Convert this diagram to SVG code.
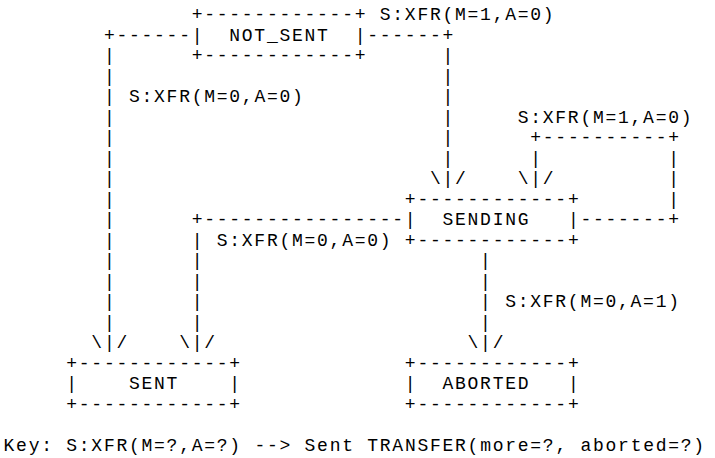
<svg xmlns="http://www.w3.org/2000/svg" width="715" height="458" viewBox="0 0 715 458" xml:space="preserve">
<style>
text { font-family: "Liberation Mono", "DejaVu Sans Mono", monospace; font-size: 18px; letter-spacing: 1.74px; fill: #000; white-space: pre; }
</style>
<rect width="715" height="458" fill="#fff"/>
<g id="node-not-sent">
<text x="191.67" y="20">+------------+<tspan x="191.67" y="40.5">|  NOT_SENT  |</tspan><tspan x="191.67" y="61">+------------+</tspan></text>
</g>
<g id="node-sending">
<text x="404.85" y="204.5">+------------+<tspan x="404.85" y="225">|  SENDING   |</tspan><tspan x="404.85" y="245.5">+------------+</tspan></text>
</g>
<g id="node-sent">
<text x="66.27" y="368.5">+------------+<tspan x="66.27" y="389">|    SENT    |</tspan><tspan x="66.27" y="409.5">+------------+</tspan></text>
</g>
<g id="node-aborted">
<text x="404.85" y="368.5">+------------+<tspan x="404.85" y="389">|  ABORTED   |</tspan><tspan x="404.85" y="409.5">+------------+</tspan></text>
</g>
<g id="connectors">
<text id="c-notsent-sending-label" x="379.77" y="20">S:XFR(M=1,A=0)</text>
<text id="c-notsent-sending" x="367.23" y="40.5">------+<tspan x="442.47" y="61">|</tspan><tspan x="442.47" y="81.5">|</tspan><tspan x="442.47" y="102">|</tspan><tspan x="442.47" y="122.5">|</tspan><tspan x="442.47" y="143">|</tspan><tspan x="442.47" y="163.5">|</tspan><tspan x="429.93" y="184">\|/</tspan></text>
<text id="c-notsent-sent" x="103.89" y="40.5">+------<tspan x="103.89" y="61">|</tspan><tspan x="103.89" y="81.5">|</tspan><tspan x="103.89" y="102">| S:XFR(M=0,A=0)</tspan><tspan x="103.89" y="122.5">|</tspan><tspan x="103.89" y="143">|</tspan><tspan x="103.89" y="163.5">|</tspan><tspan x="103.89" y="184">|</tspan><tspan x="103.89" y="204.5">|</tspan><tspan x="103.89" y="225">|</tspan><tspan x="103.89" y="245.5">|</tspan><tspan x="103.89" y="266">|</tspan><tspan x="103.89" y="286.5">|</tspan><tspan x="103.89" y="307">|</tspan><tspan x="103.89" y="327.5">|</tspan><tspan x="91.35" y="348">\|/</tspan></text>
<text id="c-sending-loop-label" x="517.71" y="122.5">S:XFR(M=1,A=0)</text>
<text id="c-sending-loop" x="530.25" y="143">+----------+<tspan x="530.25" y="163.5">|</tspan><tspan x="668.19" y="163.5">|</tspan><tspan x="517.71" y="184">\|/</tspan><tspan x="668.19" y="184">|</tspan><tspan x="668.19" y="204.5">|</tspan><tspan x="580.41" y="225">-------+</tspan></text>
<text id="c-sending-sent" x="191.67" y="225">+----------------<tspan x="191.67" y="245.5">| S:XFR(M=0,A=0)</tspan><tspan x="191.67" y="266">|</tspan><tspan x="191.67" y="286.5">|</tspan><tspan x="191.67" y="307">|</tspan><tspan x="191.67" y="327.5">|</tspan><tspan x="179.13" y="348">\|/</tspan></text>
<text id="c-sending-aborted" x="480.09" y="266">|<tspan x="480.09" y="286.5">|</tspan><tspan x="480.09" y="307">| S:XFR(M=0,A=1)</tspan><tspan x="480.09" y="327.5">|</tspan><tspan x="467.55" y="348">\|/</tspan></text>
</g>
<g id="key">
<text x="3.57" y="450.5">Key: S:XFR(M=?,A=?) --&gt; Sent TRANSFER(more=?, aborted=?)</text>
</g>
</svg>
